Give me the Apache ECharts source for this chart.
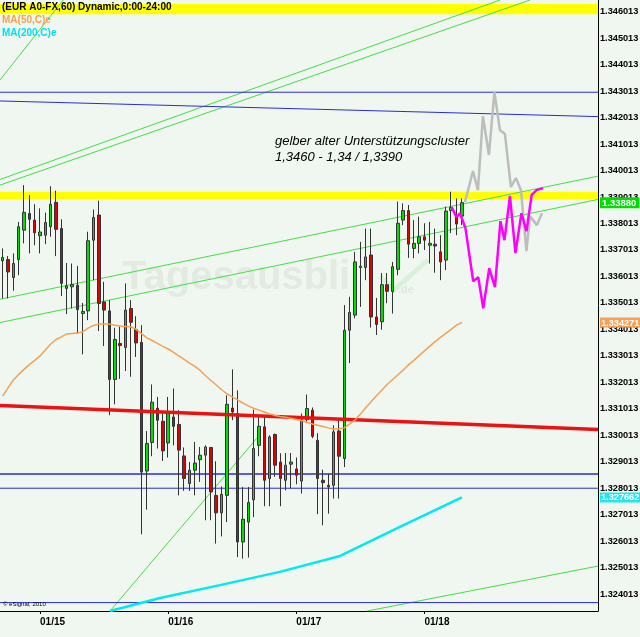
<!DOCTYPE html>
<html><head><meta charset="utf-8">
<script src="https://cdn.jsdelivr.net/npm/echarts@6/dist/echarts.min.js"></script>
<style>html,body{margin:0;padding:0;background:#f0f7f0;overflow:hidden}#c{width:640px;height:637px}</style>
</head><body><div id="c"></div><script>
// ---- data ----
const yMin = 1.323372, yMax = 1.346455;
const yTicks = [1.324013,1.325013,1.326013,1.327013,1.328013,1.329013,1.330013,1.331013,1.332013,1.333013,1.334013,1.335013,1.336013,1.337013,1.338013,1.339013,1.340013,1.341013,1.342013,1.343013,1.344013,1.345013,1.346013];
const dayLabels = ['01/15','01/16','01/17','01/18'];
const firstDay = 14, firstHour = 17, slotCount = 112;
// [open, close, low, high]
const candles = [
[1.33660,1.33673,1.33518,1.33707],[1.33665,1.33618,1.33518,1.33678],[1.33597,1.33650,1.33547,1.33688],[1.33665,1.33789,1.33606,1.33807],
[1.33776,1.33843,1.33726,1.33946],[1.33839,1.33817,1.33688,1.33908],[1.33814,1.33766,1.33719,1.33874],[1.33755,1.33769,1.33688,1.33858],
[1.33757,1.33805,1.33723,1.33842],[1.33789,1.33874,1.33751,1.33942],[1.33881,1.33779,1.33678,1.33925],[1.33782,1.33575,1.33527,1.33817],
[1.33556,1.33566,1.33459,1.33652],[1.33562,1.33571,1.33480,1.33650],[1.33568,1.33476,1.33386,1.33641],[1.33461,1.33469,1.33307,1.33501],
[1.33471,1.33736,1.33436,1.33770],[1.33738,1.33824,1.33587,1.33854],[1.33833,1.33499,1.33395,1.33887],[1.33505,1.33474,1.33338,1.33581],
[1.33471,1.33212,1.33077,1.33512],[1.33212,1.33363,1.33118,1.33407],[1.33348,1.33340,1.33214,1.33411],[1.33333,1.33474,1.33244,1.33575],
[1.33480,1.33428,1.33222,1.33512],[1.33401,1.33350,1.33297,1.33451],[1.33352,1.32862,1.32627,1.33417],[1.32866,1.32970,1.32720,1.33017],
[1.32974,1.33126,1.32922,1.33193],[1.33103,1.33058,1.32951,1.33146],[1.33054,1.32942,1.32904,1.33083],[1.32972,1.33086,1.32917,1.33146],
[1.33070,1.33035,1.32963,1.33178],[1.33042,1.32945,1.32774,1.33096],[1.32923,1.32838,1.32791,1.32955],[1.32819,1.32869,1.32791,1.32900],
[1.32869,1.32896,1.32774,1.32976],[1.32909,1.32926,1.32825,1.32957],[1.32926,1.32957,1.32680,1.32963],[1.32955,1.32787,1.32680,1.32957],
[1.32774,1.32708,1.32592,1.32903],[1.32708,1.32778,1.32619,1.32808],[1.32774,1.33118,1.32673,1.33152],[1.33104,1.33089,1.33058,1.33250],
[1.33083,1.32598,1.32541,1.33171],[1.32598,1.32684,1.32535,1.32806],[1.32673,1.32747,1.32539,1.32806],[1.32757,1.32951,1.32692,1.33098],
[1.32963,1.33035,1.32922,1.33077],[1.33033,1.32831,1.32733,1.33070],[1.32838,1.32995,1.32733,1.33001],[1.33004,1.32888,1.32844,1.33008],
[1.32900,1.32838,1.32733,1.32933],[1.32831,1.32888,1.32793,1.32934],[1.32892,1.32900,1.32800,1.32934],[1.32874,1.32850,1.32816,1.32917],
[1.32828,1.33060,1.32781,1.33083],[1.33060,1.33102,1.33047,1.33155],[1.33096,1.32997,1.32990,1.33106],[1.32982,1.32838,1.32703,1.33009],
[1.32831,1.32822,1.32661,1.32871],[1.32812,1.32806,1.32705,1.32856],[1.32812,1.33014,1.32762,1.33039],[1.33017,1.32922,1.32762,1.33060],
[1.32913,1.33398,1.32881,1.33493],[1.33398,1.33465,1.33274,1.33524],[1.33455,1.33656,1.33443,1.33694],[1.33635,1.33640,1.33486,1.33732],
[1.33635,1.33675,1.33587,1.33782],[1.33682,1.33448,1.33408,1.33782],[1.33448,1.33420,1.33380,1.33520],[1.33430,1.33570,1.33400,1.33614],
[1.33570,1.33545,1.33500,1.33614],[1.33544,1.33638,1.33461,1.33656],[1.33628,1.33802,1.33606,1.33884],[1.33814,1.33850,1.33795,1.33877],
[1.33850,1.33723,1.33671,1.33871],[1.33707,1.33726,1.33670,1.33814],[1.33726,1.33751,1.33688,1.33827],[1.33751,1.33738,1.33701,1.33802],
[1.33719,1.33726,1.33650,1.33807],[1.33723,1.33716,1.33615,1.33782],[1.33694,1.33656,1.33587,1.33757],[1.33663,1.33848,1.33625,1.33865],
[1.33850,1.33862,1.33765,1.33921],[1.33827,1.33799,1.33757,1.33896],[1.33829,1.33880,1.33795,1.33896]
];
const ma50 = [1.33149,1.33180,1.33210,1.33231,1.33250,1.33268,1.33284,1.33301,1.33323,1.33346,1.33363,1.33373,1.33384,1.33386,1.33387,1.33392,
1.33406,1.33416,1.33421,1.33421,1.33421,1.33417,1.33414,1.33412,1.33411,1.33401,1.33385,1.33369,1.33359,1.33348,1.33337,1.33327,
1.33314,1.33301,1.33288,1.33274,1.33261,1.33246,1.33226,1.33208,1.33191,1.33173,1.33158,1.33146,1.33135,1.33123,1.33112,1.33103,
1.33096,1.33089,1.33082,1.33076,1.33072,1.33069,1.33065,1.33061,1.33057,1.33050,1.33044,1.33039,1.33034,1.33029,1.33025,1.33026,
1.33029,1.33044,1.33059,1.33081,1.33105,1.33128,1.33150,1.33171,1.33193,1.33211,1.33229,1.33247,1.33267,1.33284,1.33302,1.33320,
1.33338,1.33355,1.33371,1.33386,1.33401,1.33417,1.33427];
// MA200 read at a few bar positions: [bar index, value]
const ma200 = [[20.1,1.32337],[29.5,1.32386],[40.7,1.32435],[51.9,1.32485],[63.2,1.32545],[74.4,1.32655],[86,1.327662]];
// forecast paths [bar index, value]
const greyPath = [[86.58,1.33882],[88.08,1.33999],[89.01,1.33927],[89.95,1.34207],[91.07,1.34060],[92.1,1.34298],[93.13,1.34154],[94.07,1.34139],
[95.19,1.33939],[96.13,1.33973],[97.07,1.33927],[98.1,1.33697],[98.75,1.33829],[100.06,1.33795],[101.0,1.33840]];
const magentaPath = [[84.09,1.33863],[84.99,1.33825],[85.64,1.33840],[86.67,1.33784],[88.13,1.33583],[89.07,1.33598],[90.01,1.33481],[91.13,1.33632],
[92.2,1.33561],[93.23,1.33810],[93.98,1.33738],[95.01,1.33905],[96.04,1.33689],[97.16,1.33840],[98.1,1.33772],[99.07,1.33908],[99.97,1.33927],[101.19,1.33935]];
// trend lines [[i0,v0],[i1,v1]]
const greenLines = [
 [[-0.5,1.343433],[11.34,1.346455]],
 [[-0.5,1.339674],[93.15,1.346455]],
 [[-0.5,1.339462],[98.77,1.346455]],
 [[-0.5,1.33515],[111.5,1.33980]],
 [[-0.5,1.33427],[111.5,1.33892]],
 [[20.1,1.32337],[47.82,1.32995]],
 [[68.24,1.32337],[111.5,1.32507]]
];
const blueLines = [
 [[-0.5,1.34297],[111.5,1.34297]],
 [[-0.5,1.34264],[111.5,1.34205]],
 [[-0.5,1.32855],[111.5,1.32855]],
 [[-0.5,1.32801],[111.5,1.32801]],
 [[-0.5,1.32369],[111.5,1.32369]]
];
const redLine = [[-0.5,1.33114],[111.5,1.33023]];
const yellowBands = [[1.34592,1.34630],[1.33893,1.33921]];
const priceTags = [
 {value:1.33880, text:'1.33880', style:'g'},
 {value:1.334271, text:'1.334271', style:'o'},
 {value:1.327662, text:'1.327662', style:'c'}
];

// ---- categories (hourly slots) ----
const categories = [];
for (let i = 0; i < slotCount; i++) {
  const t = firstHour + i, d = firstDay + Math.floor(t / 24), h = t % 24;
  categories.push('01/' + d + ' ' + (h < 10 ? '0' : '') + h + ':00');
}
const isDayStart = (idx, val) => val.endsWith(' 00:00') && dayLabels.includes(val.slice(0,5));

const FONT = 'Liberation Sans, Arial, sans-serif';
const lineSeries = (data, color, width, z, extra) => Object.assign({
  type:'line', xAxisIndex:1, yAxisIndex:0, data, symbol:'none', silent:true,
  lineStyle:{color, width}, z, animation:false
}, extra || {});

const series = [];
series.push(lineSeries([[-0.5,yMin],[111.5,yMin]], 'transparent', 0, 1, {
  markArea:{silent:true, itemStyle:{color:'#ffff00', opacity:1},
    data: yellowBands.map(b => [{yAxis:b[0]},{yAxis:b[1]}])}
}));
greenLines.forEach(l => series.push(lineSeries(l, '#44dd44', 1, 2)));
blueLines.forEach((l, i) => series.push(lineSeries(l, '#2a2ad8', i === 2 ? 1.6 : 1, 2)));
series.push({
  type:'candlestick', xAxisIndex:0, yAxisIndex:0, data:candles, barWidth:3, z:3, animation:false, silent:true,
  itemStyle:{color:'#00e000', color0:'#e00000', borderColor:'#333', borderColor0:'#333', borderWidth:1}
});
series.push(lineSeries(redLine, '#ee1111', 3.5, 4));
series.push({type:'line', xAxisIndex:0, yAxisIndex:0, data:ma50, symbol:'none', silent:true,
  lineStyle:{color:'#f4a055', width:1.5}, z:4, animation:false});
series.push(lineSeries(ma200, '#00e8f0', 2.5, 4));
series.push(lineSeries(greyPath, '#bdbdbd', 2.5, 5));
series.push(lineSeries(magentaPath, '#ff00ff', 2.5, 5));

const chart = echarts.init(document.getElementById('c'), null, {renderer:'canvas'});
chart.setOption({
  backgroundColor:'#f0f7f0',
  animation:false,
  grid:{left:0, top:0, right:42, bottom:26, containLabel:false, outerBoundsMode:'none'},
  xAxis:[
    {type:'category', data:categories, boundaryGap:true, position:'bottom',
     axisLine:{show:true, onZero:false, lineStyle:{color:'#000', width:1}},
     axisTick:{show:true, interval:isDayStart, alignWithLabel:true, length:3, lineStyle:{color:'#000'}},
     axisLabel:{interval:isDayStart, formatter:v => v.slice(0,5), align:'left', color:'#000',
       fontWeight:'bold', fontSize:10, fontFamily:FONT, margin:6, hideOverlap:false},
     splitLine:{show:false}},
    {type:'value', min:-0.5, max:111.5, show:false, position:'bottom', axisLine:{onZero:false}}
  ],
  yAxis:[
    {type:'value', position:'right', min:yMin, max:yMax, scale:true,
     axisLine:{show:true, onZero:false, lineStyle:{color:'#000', width:1}},
     axisTick:{show:false}, splitLine:{show:false},
     axisLabel:{customValues:yTicks, formatter:v => v.toFixed(6), color:'#000', fontWeight:'bold',
       fontSize:9.2, fontFamily:FONT, margin:2}},
    {type:'value', position:'right', min:yMin, max:yMax, scale:true,
     axisLine:{show:false, onZero:false}, axisTick:{show:false}, splitLine:{show:false},
     axisLabel:{customValues:priceTags.map(p => p.value), margin:2,
       formatter:v => { const p = priceTags.find(t => Math.abs(t.value - v) < 1e-6); return p ? '{' + p.style + '|' + p.text + '}' : ''; },
       rich:{
         g:{backgroundColor:'#00dd00', color:'#fff', fontWeight:'bold', fontSize:9.5, fontFamily:FONT, padding:[1,3,0,2]},
         o:{backgroundColor:'#f4a055', color:'#fff', fontWeight:'bold', fontSize:9.2, fontFamily:FONT, padding:[1,1,0,1]},
         c:{backgroundColor:'#22e6ee', color:'#fff', fontWeight:'bold', fontSize:9.2, fontFamily:FONT, padding:[1,1,0,1]}
       }}}
  ],
  graphic:[
    {type:'text', left:122, top:258, z:0, silent:true, style:{text:'Tagesausbli', font:'bold 40px ' + FONT, fill:'rgba(110,125,110,0.10)'}},
    {type:'text', left:398, top:284, z:0, silent:true, style:{text:'.de', font:'bold 11px ' + FONT, fill:'rgba(110,125,110,0.12)'}},
    {type:'polyline', z:0, silent:true, shape:{points:[[380,276],[394,290],[428,260]]}, style:{stroke:'rgba(60,200,60,0.12)', lineWidth:5, fill:null}},
    {type:'text', left:2, top:2, z:10, silent:true, style:{text:'(EUR A0-FX,60) Dynamic,0:00-24:00', font:'bold 10px ' + FONT, fill:'#000'}},
    {type:'text', left:2, top:15, z:10, silent:true, style:{text:'MA(50,C)e', font:'bold 10px ' + FONT, fill:'#f4a055'}},
    {type:'text', left:2, top:28, z:10, silent:true, style:{text:'MA(200,C)e', font:'bold 10px ' + FONT, fill:'#00e0ee'}},
    {type:'text', left:275, top:135, z:10, silent:true, style:{text:'gelber alter Unterstützungscluster', font:'italic 13px ' + FONT, fill:'#000'}},
    {type:'text', left:275, top:151, z:10, silent:true, style:{text:'1,3460 - 1,34 / 1,3390', font:'italic 13px ' + FONT, fill:'#000'}},
    {type:'text', left:3, top:601, z:10, silent:true, style:{text:'© eSignal, 2010', font:'6px ' + FONT, fill:'#000'}}
  ],
  series
});
</script></body></html>
